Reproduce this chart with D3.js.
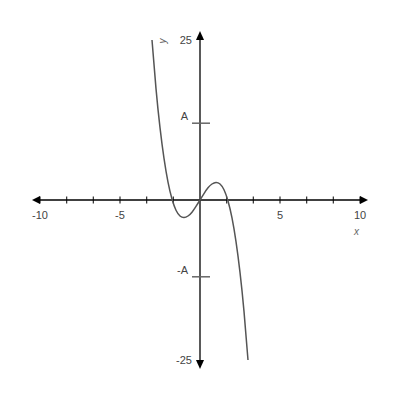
<!DOCTYPE html>
<html>
<head>
<meta charset="utf-8">
<script src="https://cdn.jsdelivr.net/npm/d3@7"></script>
<style>
  body { margin: 0; background: #fff; }
  text { font-family: "Liberation Sans", Arial, sans-serif; fill: #444; }
</style>
</head>
<body>
<script>
// values
const curveX = [-3, -2.75, -2.5, -2.25, -2, -1.75, -1.5, -1.25, -1, -0.75, -0.5, -0.25, 0,
  0.25, 0.5, 0.75, 1, 1.25, 1.5, 1.75, 2, 2.25, 2.5, 2.75, 3];
const curveY = [25, 17.4, 11.3, 6.5, 2.8, 0.15, -1.6, -2.5, -2.75, -2.5, -1.9, -1.0, 0,
  1.0, 1.9, 2.5, 2.75, 2.5, 1.6, -0.15, -2.8, -6.5, -11.3, -17.4, -25];
const xTickValues = [-10, -8.33, -6.67, -5, -3.33, -1.67, 1.67, 3.33, 5, 6.67, 8.33, 10];
const xLabelValues = [-10, -5, 5, 10];
const yTickValues = [12, -12];
const yTickLabels = ["A", "-A"];
const yEndValues = [25, -25];

const width = 400, height = 400;
const svg = d3.select("body").append("svg").attr("width", width).attr("height", height);

const x = d3.scaleLinear().domain([-10, 10]).range([40, 360]);
const y = d3.scaleLinear().domain([-25, 25]).range([360, 40]);

const x0 = x(0), y0 = y(0);

// axes lines
svg.append("line")
  .attr("x1", x(-10) - 2).attr("x2", x(10) + 2)
  .attr("y1", y0).attr("y2", y0)
  .attr("stroke", "#000").attr("stroke-width", 1.3);
svg.append("line")
  .attr("x1", x0).attr("x2", x0)
  .attr("y1", y(25) - 2).attr("y2", y(-25) + 2)
  .attr("stroke", "#000").attr("stroke-width", 1.3);

// x ticks
svg.append("g").selectAll("line")
  .data(xTickValues)
  .join("line")
  .attr("x1", d => x(d)).attr("x2", d => x(d))
  .attr("y1", y0 - 3.5).attr("y2", y0 + 3.5)
  .attr("stroke", "#000").attr("stroke-width", 1);

svg.append("g").selectAll("text")
  .data(xLabelValues)
  .join("text")
  .attr("x", d => x(d))
  .attr("y", y0 + 19)
  .attr("text-anchor", "middle")
  .attr("font-size", 11)
  .text(d => d);

// y marks A / -A
svg.append("g").selectAll("line")
  .data(yTickValues)
  .join("line")
  .attr("x1", x0 - 8).attr("x2", x0 + 10)
  .attr("y1", d => y(d)).attr("y2", d => y(d))
  .attr("stroke", "#666").attr("stroke-width", 1.5);

svg.append("g").selectAll("text")
  .data(yTickValues)
  .join("text")
  .attr("x", x0 - 12)
  .attr("y", d => y(d) - 3)
  .attr("text-anchor", "end")
  .attr("font-size", 11)
  .text((d, i) => yTickLabels[i]);

// end labels 25 / -25
svg.append("g").selectAll("text")
  .data(yEndValues)
  .join("text")
  .attr("x", x0 - 8)
  .attr("y", d => y(d) + 4)
  .attr("text-anchor", "end")
  .attr("font-size", 11)
  .text(d => d);

// arrow heads
const arrows = [
  [[x(-10) - 8, y0], [x(-10), y0 - 4], [x(-10), y0 + 4]],
  [[x(10) + 8, y0], [x(10), y0 - 4], [x(10), y0 + 4]],
  [[x0, y(25) - 9], [x0 - 4, y(25)], [x0 + 4, y(25)]],
  [[x0, y(-25) + 9], [x0 - 4, y(-25)], [x0 + 4, y(-25)]]
];
svg.append("g").selectAll("path")
  .data(arrows)
  .join("path")
  .attr("d", d => "M" + d.join("L") + "Z")
  .attr("fill", "#000");

// axis names
svg.append("text")
  .attr("x", x(10) - 6).attr("y", y0 + 35)
  .attr("font-size", 10).attr("font-style", "italic")
  .style("fill", "#666")
  .text("x");
svg.append("text")
  .attr("transform", `translate(${x0 - 34},${y(25) + 1}) rotate(-90)`)
  .attr("text-anchor", "middle")
  .attr("font-size", 10).attr("font-style", "italic")
  .style("fill", "#666")
  .text("y");

// curve
const points = curveX.map((d, i) => [d, curveY[i]]);
const line = d3.line()
  .x(d => x(d[0]))
  .y(d => y(d[1]))
  .curve(d3.curveNatural);

svg.append("path")
  .datum(points)
  .attr("d", line)
  .attr("fill", "none")
  .attr("stroke", "#555")
  .attr("stroke-width", 1.5);
</script>
</body>
</html>
